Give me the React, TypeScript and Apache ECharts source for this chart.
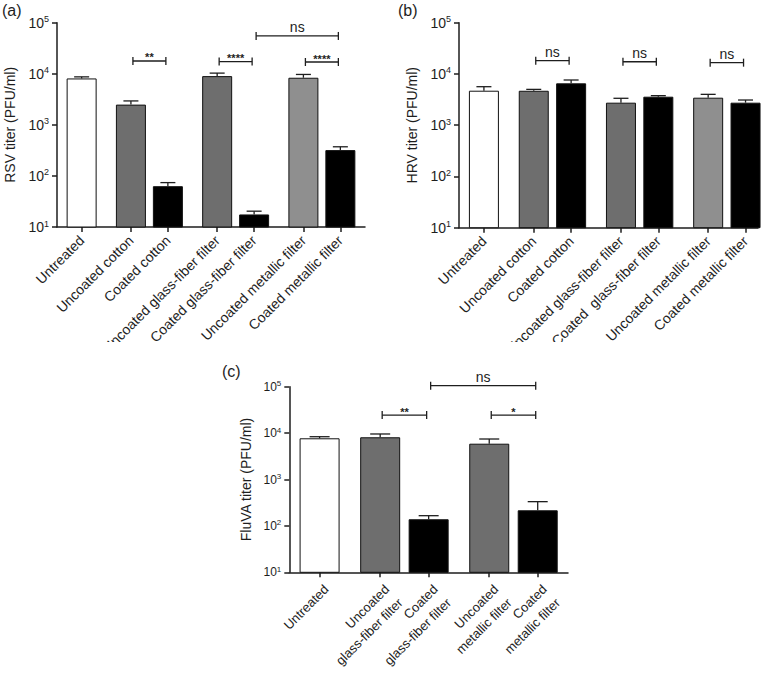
import React, { useEffect, useRef } from "react";
import * as echarts from "echarts";

const FONT = "'Liberation Sans', Arial, Helvetica, sans-serif";
const INK = "#1e1e1e";

// ---------- data ----------
const abCategoriesA = [
  "Untreated",
  "Uncoated cotton",
  "Coated cotton",
  "Uncoated glass-fiber filter",
  "Coated glass-fiber filter",
  "Uncoated metallic filter",
  "Coated metallic filter",
];
const abCategoriesB = [
  "Untreated",
  "Uncoated cotton",
  "Coated cotton",
  "Uncoated glass-fiber filter",
  "Coated  glass-fiber filter",
  "Uncoated metallic filter",
  "Coated metallic filter",
];
const cCategories = [
  "Untreated",
  "Uncoated\nglass-fiber filter",
  "Coated\nglass-fiber filter",
  "Uncoated\nmetallic filter",
  "Coated\nmetallic filter",
];

const rsvMeans = [8100, 2490, 63, 9000, 17.6, 8360, 320];
const rsvSem = [600, 450, 11, 1300, 2.8, 1340, 52];
const hrvMeans = [4710, 4700, 6560, 2750, 3600, 3440, 2750];
const hrvSem = [930, 300, 1060, 600, 170, 560, 350];
const fluMeans = [7730, 8130, 139, 5910, 217];
const fluSem = [630, 1440, 27, 1550, 116];

const rsvBrackets = [
  { from: 1, to: 2, y: 17800, label: "**" },
  { from: 3, to: 4, y: 17300, label: "****" },
  { from: 5, to: 6, y: 17000, label: "****" },
  { from: 4, to: 6, y: 55000, label: "ns" },
];
const hrvBrackets = [
  { from: 1, to: 2, y: 18150, label: "ns" },
  { from: 3, to: 4, y: 17300, label: "ns" },
  { from: 5, to: 6, y: 16600, label: "ns" },
];
const fluBrackets = [
  { from: 1, to: 2, y: 24500, label: "**" },
  { from: 3, to: 4, y: 24500, label: "*" },
  { from: 2, to: 4, y: 105000, label: "ns" },
];

// ---------- styles ----------
const WHITE = "#ffffff";
const DARK = "#6e6e6e";
const LIGHT = "#8f8f8f";
const BLACK = "#000000";
const paletteAB = [WHITE, DARK, BLACK, DARK, BLACK, LIGHT, BLACK];
const paletteC = [WHITE, DARK, BLACK, DARK, BLACK];

type Bracket = { from: number; to: number; y: number; label: string };

interface PanelCfg {
  names: string[];
  means: number[];
  sems: number[];
  palette: string[];
  brackets: Bracket[];
  pad: [number, number];
  within: number;
  between: number;
  boundaryGap: boolean;
  grid: { left: number; top: number; width: number; height: number };
  barWidth: number;
  yName: string;
  nameGap: number;
  tickFont: number;
  supFont: number;
  labelFont: number;
  labelMargin: number;
  labelLineHeight?: number;
  labelVAlign?: string;
  panel: string;
  panelPos: { left: number; top: number };
}

function buildOption(cfg: PanelCfg) {
  const pos: number[] = [];
  let p = cfg.pad[0];
  cfg.names.forEach((_, i) => {
    if (i > 0) p += i % 2 === 1 ? cfg.between : cfg.within;
    pos.push(p);
  });
  const total = pos[pos.length - 1] + cfg.pad[1] + 1;
  const cats: string[] = Array(total).fill("");
  pos.forEach((s, i) => (cats[s] = cfg.names[i]));
  const barData: any[] = Array(total).fill("-");
  pos.forEach((s, i) => {
    barData[s] = { value: cfg.means[i], itemStyle: { color: cfg.palette[i] } };
  });
  const errData = pos.map((s, i) => [s, cfg.means[i], cfg.means[i] + cfg.sems[i]]);
  const brData = cfg.brackets.map((b) => [pos[b.from], pos[b.to], b.y]);
  const capHalf = cfg.barWidth / 4;

  const lineStyle = { stroke: INK, lineWidth: 1.3 };

  return {
    animation: false,
    grid: { ...cfg.grid, containLabel: false, outerBoundsMode: "none" },
    graphic: [
      {
        type: "text",
        left: cfg.panelPos.left,
        top: cfg.panelPos.top,
        style: { text: cfg.panel, font: `16px ${FONT}`, fill: INK },
      },
    ],
    xAxis: {
      type: "category",
      data: cats,
      boundaryGap: cfg.boundaryGap,
      axisLine: { show: true, lineStyle: { color: INK, width: 1.5 } },
      axisTick: {
        show: true,
        length: 5,
        alignWithLabel: true,
        interval: (_i: number, v: string) => v !== "",
        lineStyle: { color: INK, width: 1.5 },
      },
      axisLabel: {
        interval: 0,
        rotate: 45,
        margin: cfg.labelMargin,
        fontSize: cfg.labelFont,
        fontFamily: FONT,
        color: INK,
        lineHeight: cfg.labelLineHeight,
        verticalAlign: cfg.labelVAlign,
      },
      splitLine: { show: false },
    },
    yAxis: {
      type: "log",
      logBase: 10,
      min: 10,
      max: 100000,
      name: cfg.yName,
      nameLocation: "middle",
      nameGap: cfg.nameGap,
      nameTextStyle: { fontSize: 14, fontFamily: FONT, color: INK },
      axisLine: { show: true, lineStyle: { color: INK, width: 1.5 } },
      axisTick: { show: true, length: 5, lineStyle: { color: INK, width: 1.5 } },
      minorTick: { show: false },
      splitLine: { show: false },
      axisLabel: {
        margin: 8,
        formatter: (v: number) => `{b|10}{s|${Math.round(Math.log10(v))}}`,
        rich: {
          b: { fontSize: cfg.tickFont, fontFamily: FONT, color: INK, lineHeight: cfg.tickFont + 2 },
          s: { fontSize: cfg.supFont, fontFamily: FONT, color: INK, verticalAlign: "top" },
        },
      },
    },
    series: [
      {
        type: "bar",
        data: barData,
        barWidth: cfg.barWidth,
        clip: true,
        silent: true,
        itemStyle: { borderColor: "#111", borderWidth: 1 },
        z: 2,
      },
      {
        type: "custom",
        data: errData,
        encode: { x: 0, y: [1, 2] },
        silent: true,
        z: 3,
        renderItem: (_params: any, api: any) => {
          const a = api.coord([api.value(0), api.value(1)]);
          const b = api.coord([api.value(0), api.value(2)]);
          return {
            type: "group",
            children: [
              { type: "line", shape: { x1: a[0], y1: a[1], x2: b[0], y2: b[1] }, style: lineStyle },
              {
                type: "line",
                shape: { x1: b[0] - capHalf, y1: b[1], x2: b[0] + capHalf, y2: b[1] },
                style: lineStyle,
              },
            ],
          };
        },
      },
      {
        type: "custom",
        data: brData,
        encode: { x: [0, 1], y: 2 },
        silent: true,
        clip: false,
        z: 4,
        renderItem: (params: any, api: any) => {
          const br = cfg.brackets[params.dataIndex];
          const p1 = api.coord([api.value(0), api.value(2)]);
          const p2 = api.coord([api.value(1), api.value(2)]);
          const x1 = p1[0] + 2;
          const x2 = p2[0] - 2;
          const y = p1[1];
          const star = br.label.indexOf("*") >= 0;
          return {
            type: "group",
            children: [
              { type: "line", shape: { x1, y1: y, x2, y2: y }, style: lineStyle },
              { type: "line", shape: { x1, y1: y - 4, x2: x1, y2: y + 4 }, style: lineStyle },
              { type: "line", shape: { x1: x2, y1: y - 4, x2, y2: y + 4 }, style: lineStyle },
              {
                type: "text",
                x: (x1 + x2) / 2,
                y: star ? y - 3.5 : y - 9,
                style: {
                  text: br.label,
                  font: star ? `bold 11px ${FONT}` : `14px ${FONT}`,
                  fill: INK,
                  align: "center",
                  verticalAlign: "middle",
                  textAlign: "center",
                  textVerticalAlign: "middle",
                },
              },
            ],
          };
        },
      },
    ],
  };
}

const panelA: PanelCfg = {
  names: abCategoriesA,
  means: rsvMeans,
  sems: rsvSem,
  palette: paletteAB,
  brackets: rsvBrackets,
  pad: [2, 2],
  within: 3,
  between: 4,
  boundaryGap: false,
  grid: { left: 57, top: 22.7, width: 308, height: 204.3 },
  barWidth: 30,
  yName: "RSV titer (PFU/ml)",
  nameGap: 40,
  tickFont: 14,
  supFont: 9,
  labelFont: 14,
  labelMargin: 11,
  panel: "(a)",
  panelPos: { left: 2, top: 2 },
};

const panelB: PanelCfg = {
  names: abCategoriesB,
  means: hrvMeans,
  sems: hrvSem,
  palette: paletteAB,
  brackets: hrvBrackets,
  pad: [2, 1],
  within: 3,
  between: 4,
  boundaryGap: false,
  grid: { left: 74, top: 22.7, width: 299, height: 205 },
  barWidth: 30,
  yName: "HRV titer (PFU/ml)",
  nameGap: 40,
  tickFont: 14,
  supFont: 9,
  labelFont: 14,
  labelMargin: 11,
  panel: "(b)",
  panelPos: { left: 13, top: 2 },
};

const panelC: PanelCfg = {
  names: cCategories,
  means: fluMeans,
  sems: fluSem,
  palette: paletteC,
  brackets: fluBrackets,
  pad: [2, 2],
  within: 4,
  between: 5,
  boundaryGap: true,
  grid: { left: 74.3, top: 41.7, width: 278.7, height: 185.6 },
  barWidth: 40,
  yName: "FluVA titer (PFU/ml)",
  nameGap: 34,
  tickFont: 12,
  supFont: 8,
  labelFont: 13,
  labelMargin: 8,
  labelLineHeight: 19,
  labelVAlign: "top",
  panel: "(c)",
  panelPos: { left: 7, top: 18 },
};

function Panel({ cfg, style }: { cfg: PanelCfg; style: React.CSSProperties }) {
  const ref = useRef<HTMLDivElement>(null);
  useEffect(() => {
    if (!ref.current) return;
    const chart = echarts.init(ref.current, undefined, { renderer: "svg" });
    chart.setOption(buildOption(cfg) as any);
    return () => chart.dispose();
  }, [cfg]);
  return <div ref={ref} style={{ position: "absolute", ...style }} />;
}

export default function App() {
  return (
    <div
      style={{
        position: "fixed",
        left: 0,
        top: 0,
        width: 770,
        height: 673,
        background: "#ffffff",
        overflow: "hidden",
      }}
    >
      <Panel cfg={panelA} style={{ left: 0, top: 0, width: 385, height: 342 }} />
      <Panel cfg={panelB} style={{ left: 385, top: 0, width: 385, height: 342 }} />
      <Panel cfg={panelC} style={{ left: 215, top: 345, width: 400, height: 328 }} />
    </div>
  );
}
